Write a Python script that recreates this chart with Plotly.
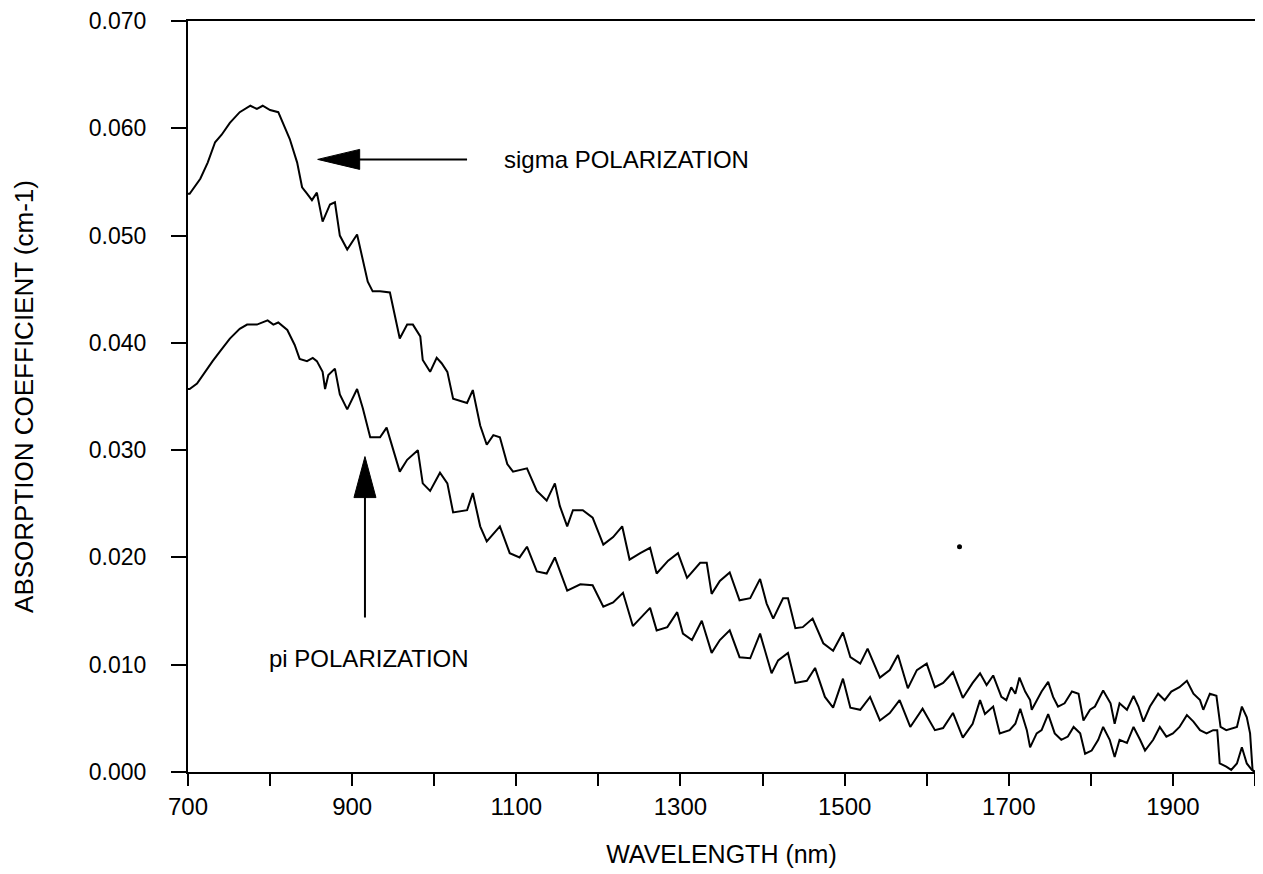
import plotly.graph_objects as go

# ---- data ----
sigma_wl = [700, 702, 715, 724, 733, 741, 751, 763, 776, 784, 791, 800, 810, 816, 824, 833, 839, 845, 851, 857,
            864, 873, 879, 885, 894, 906, 912, 919, 925, 934, 946, 958, 967, 974, 983, 986, 995, 1003, 1009, 1016,
            1023, 1040, 1047, 1056, 1064, 1072, 1080, 1089, 1096, 1113, 1125, 1137, 1147, 1153, 1162, 1169, 1181,
            1193, 1206, 1218, 1229, 1238, 1251, 1263, 1271, 1285, 1297, 1308, 1324, 1332, 1338, 1348, 1360, 1372,
            1385, 1397, 1405, 1413, 1425, 1431, 1440, 1449, 1461, 1474, 1486, 1498, 1507, 1519, 1528, 1543, 1555,
            1565, 1577, 1588, 1600, 1610, 1620, 1632, 1644, 1656, 1665, 1673, 1681, 1691, 1697, 1703, 1708, 1713,
            1720, 1726, 1728, 1734, 1740, 1748, 1754, 1760, 1768, 1777, 1785, 1791, 1799, 1805, 1815, 1824, 1829,
            1835, 1844, 1852, 1858, 1864, 1872, 1882, 1890, 1898, 1908, 1917, 1925, 1933, 1937, 1945, 1953, 1958,
            1965, 1978, 1984, 1990, 1994, 1997, 2000]
sigma_abs = [0.0539, 0.0539, 0.0553, 0.0568, 0.0587, 0.0594, 0.0605, 0.0615, 0.0621, 0.0618, 0.0621, 0.0617, 0.0615,
             0.0605, 0.0590, 0.0568, 0.0545, 0.0539, 0.0533, 0.0540, 0.0513, 0.0529, 0.0531, 0.0500, 0.0487, 0.0501,
             0.0482, 0.0457, 0.0448, 0.0448, 0.0447, 0.0404, 0.0417, 0.0417, 0.0406, 0.0384, 0.0373, 0.0386, 0.0381,
             0.0373, 0.0348, 0.0344, 0.0356, 0.0323, 0.0305, 0.0314, 0.0312, 0.0287, 0.0280, 0.0283, 0.0262, 0.0253,
             0.0269, 0.0248, 0.0229, 0.0244, 0.0244, 0.0237, 0.0212, 0.0219, 0.0229, 0.0198, 0.0204, 0.0209, 0.0185,
             0.0197, 0.0204, 0.0181, 0.0195, 0.0195, 0.0166, 0.0178, 0.0186, 0.0160, 0.0162, 0.0180, 0.0157, 0.0143,
             0.0162, 0.0162, 0.0134, 0.0135, 0.0143, 0.0120, 0.0113, 0.0130, 0.0107, 0.0101, 0.0115, 0.0088, 0.0095,
             0.0109, 0.0078, 0.0095, 0.0101, 0.0079, 0.0083, 0.0093, 0.0069, 0.0083, 0.0092, 0.0081, 0.0090, 0.0070,
             0.0067, 0.0079, 0.0073, 0.0088, 0.0075, 0.0067, 0.0058, 0.0067, 0.0075, 0.0084, 0.0070, 0.0061, 0.0064,
             0.0075, 0.0073, 0.0048, 0.0058, 0.0061, 0.0076, 0.0064, 0.0045, 0.0064, 0.0058, 0.0071, 0.0061, 0.0047,
             0.0061, 0.0073, 0.0067, 0.0075, 0.0079, 0.0085, 0.0073, 0.0067, 0.0058, 0.0073, 0.0071, 0.0042, 0.0039,
             0.0042, 0.0061, 0.0051, 0.0036, 0.0002, 0.0000]

pi_wl = [700, 702, 711, 723, 730, 739, 751, 763, 772, 784, 797, 804, 810, 821, 830, 836, 845, 852, 857, 864, 867,
         871, 879, 885, 894, 906, 913, 922, 934, 942, 958, 967, 980, 986, 995, 1007, 1016, 1023, 1040, 1047, 1056,
         1064, 1080, 1092, 1104, 1113, 1125, 1137, 1147, 1162, 1178, 1193, 1206, 1218, 1230, 1242, 1263, 1271, 1284,
         1296, 1303, 1314, 1326, 1338, 1348, 1360, 1372, 1385, 1397, 1411, 1419, 1431, 1440, 1454, 1464, 1476, 1486,
         1498, 1507, 1519, 1531, 1543, 1555, 1567, 1580, 1595, 1610, 1620, 1632, 1644, 1656, 1665, 1671, 1681, 1689,
         1701, 1708, 1714, 1722, 1726, 1734, 1740, 1748, 1756, 1764, 1772, 1779, 1787, 1793, 1801, 1809, 1815, 1823,
         1829, 1835, 1844, 1852, 1860, 1866, 1876, 1884, 1892, 1900, 1908, 1917, 1925, 1933, 1941, 1949, 1954, 1957,
         1965, 1971, 1978, 1984, 1990, 1996, 2000]
pi_abs = [0.0357, 0.0357, 0.0362, 0.0376, 0.0383, 0.0392, 0.0404, 0.0413, 0.0417, 0.0417, 0.0421, 0.0417, 0.0419,
          0.0412, 0.0398, 0.0385, 0.0383, 0.0386, 0.0383, 0.0373, 0.0357, 0.0370, 0.0376, 0.0352, 0.0338, 0.0357,
          0.0339, 0.0312, 0.0312, 0.0321, 0.0280, 0.0291, 0.0300, 0.0269, 0.0262, 0.0279, 0.0269, 0.0242, 0.0244,
          0.0260, 0.0229, 0.0215, 0.0229, 0.0204, 0.0200, 0.0210, 0.0187, 0.0185, 0.0200, 0.0169, 0.0175, 0.0174,
          0.0154, 0.0158, 0.0167, 0.0136, 0.0153, 0.0132, 0.0135, 0.0149, 0.0129, 0.0123, 0.0141, 0.0111, 0.0123,
          0.0132, 0.0107, 0.0106, 0.0129, 0.0092, 0.0104, 0.0111, 0.0083, 0.0085, 0.0097, 0.0070, 0.0060, 0.0087,
          0.0060, 0.0058, 0.0070, 0.0048, 0.0055, 0.0067, 0.0042, 0.0059, 0.0039, 0.0041, 0.0055, 0.0032, 0.0045,
          0.0067, 0.0054, 0.0061, 0.0036, 0.0039, 0.0045, 0.0059, 0.0039, 0.0023, 0.0036, 0.0039, 0.0054, 0.0036,
          0.0030, 0.0033, 0.0042, 0.0036, 0.0017, 0.0020, 0.0030, 0.0042, 0.0030, 0.0014, 0.0030, 0.0027, 0.0042,
          0.0030, 0.0020, 0.0030, 0.0042, 0.0033, 0.0036, 0.0042, 0.0053, 0.0047, 0.0039, 0.0036, 0.0039, 0.0039,
          0.0008, 0.0005, 0.0002, 0.0008, 0.0023, 0.0008, 0.0002, 0.0000]

speck_wl = [1640]
speck_abs = [0.0210]

x_tickvals = [700, 800, 900, 1000, 1100, 1200, 1300, 1400, 1500, 1600, 1700, 1800, 1900, 2000]
x_ticktext = ["700", "", "900", "", "1100", "", "1300", "", "1500", "", "1700", "", "1900", ""]
y_tickvals = [0.000, 0.010, 0.020, 0.030, 0.040, 0.050, 0.060, 0.070]
y_ticktext = ["0.000", "0.010", "0.020", "0.030", "0.040", "0.050", "0.060", "0.070"]

FONT = "Liberation Sans, Arial, Helvetica, sans-serif"

fig = go.Figure()
fig.add_trace(go.Scatter(x=sigma_wl, y=sigma_abs, mode="lines", name="sigma",
                         line=dict(color="black", width=2)))
fig.add_trace(go.Scatter(x=pi_wl, y=pi_abs, mode="lines", name="pi",
                         line=dict(color="black", width=2)))
fig.add_trace(go.Scatter(x=speck_wl, y=speck_abs, mode="markers", name="speck",
                         marker=dict(color="black", size=5)))

# arrows: shaft as line shapes, heads as pixel-sized triangles
fig.add_shape(type="line", xref="x", yref="y", x0=1040, y0=0.0571, x1=905, y1=0.0571,
              line=dict(color="black", width=2))
fig.add_shape(type="path", xref="x", yref="y", xsizemode="pixel", ysizemode="pixel",
              xanchor=858, yanchor=0.0571, path="M0,0 L42,10 L42,-10 Z",
              fillcolor="black", line=dict(color="black", width=1))
fig.add_shape(type="line", xref="x", yref="y", x0=915.6, y0=0.0144, x1=915.6, y1=0.0258,
              line=dict(color="black", width=2))
fig.add_shape(type="path", xref="x", yref="y", xsizemode="pixel", ysizemode="pixel",
              xanchor=915.6, yanchor=0.0294, path="M0,0 L-11,-41 L11,-41 Z",
              fillcolor="black", line=dict(color="black", width=1))

fig.add_annotation(x=1082, y=0.0571, xref="x", yref="y", text="sigma POLARIZATION",
                   showarrow=False, xanchor="left", yanchor="middle",
                   font=dict(family=FONT, size=24, color="black"))
fig.add_annotation(x=921, y=0.0106, xref="x", yref="y", text="pi POLARIZATION",
                   showarrow=False, xanchor="center", yanchor="middle",
                   font=dict(family=FONT, size=24, color="black"))

# page body has an 8px default margin, so the figure is shifted by that amount
fig.update_layout(
    width=1255, height=866,
    margin=dict(l=180, r=8, t=13, b=102),
    paper_bgcolor="white", plot_bgcolor="white",
    showlegend=False,
    font=dict(family=FONT, color="black"),
)
fig.update_xaxes(range=[700, 2000], tickmode="array", tickvals=x_tickvals, ticktext=x_ticktext,
                 ticks="outside", ticklen=12, tickwidth=2, tickcolor="black",
                 showline=True, linewidth=2, linecolor="black", mirror=True,
                 showgrid=False, zeroline=False, automargin=False,
                 tickfont=dict(family=FONT, size=24, color="black"),
                 title=dict(text="WAVELENGTH (nm)", font=dict(family=FONT, size=25, color="black"), standoff=27))
fig.update_yaxes(range=[0, 0.070], tickmode="array", tickvals=y_tickvals, ticktext=y_ticktext,
                 ticks="outside", ticklen=15, tickwidth=2, tickcolor="black",
                 showline=True, linewidth=2, linecolor="black", mirror=True,
                 showgrid=False, zeroline=False, ticklabelstandoff=20, automargin=False,
                 ticklabeloverflow="allow",
                 tickfont=dict(family=FONT, size=23, color="black"),
                 title=dict(text="ABSORPTION COEFFICIENT (cm-1)", font=dict(family=FONT, size=26, color="black"),
                            standoff=48))

fig.write_html("out.html")
